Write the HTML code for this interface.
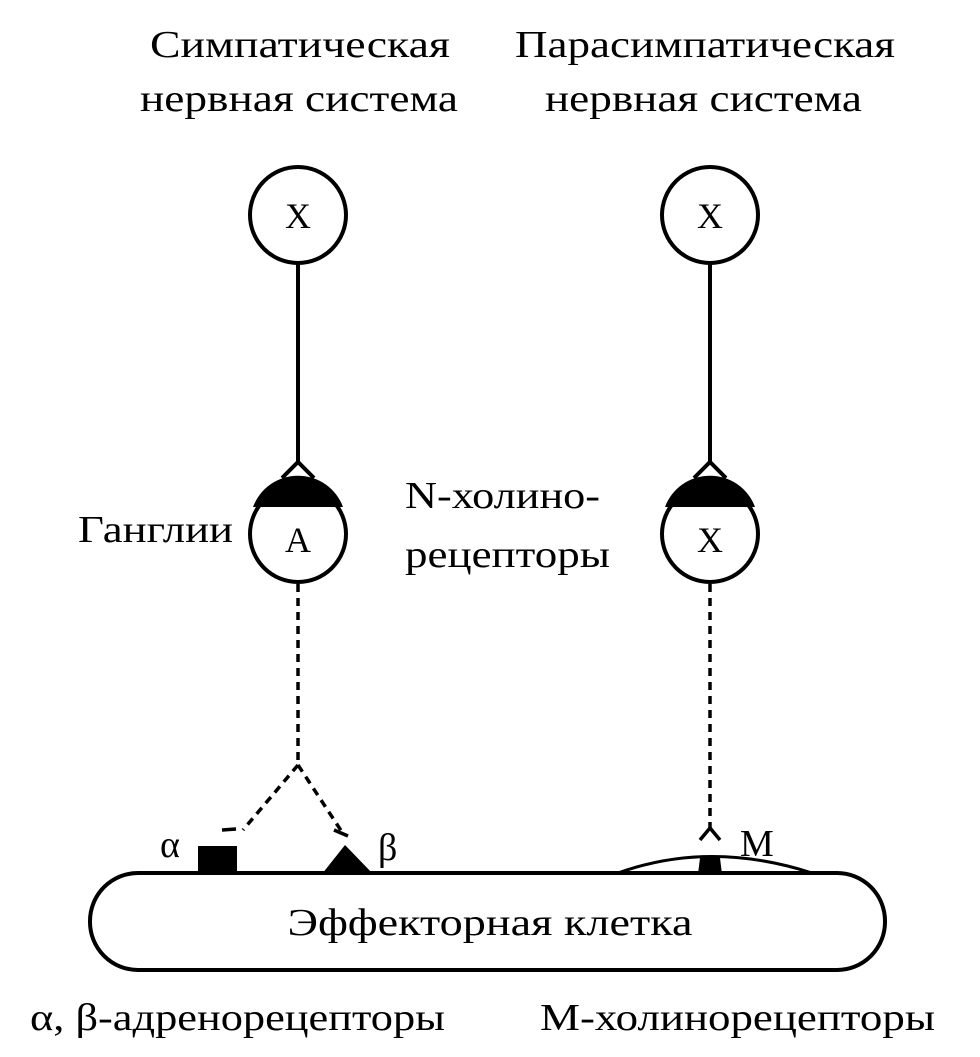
<!DOCTYPE html>
<html><head><meta charset="utf-8"><style>
html,body{margin:0;padding:0;background:#fff;}
svg{display:block;}
text{font-family:"Liberation Serif",serif;fill:#000;}
</style></head><body>
<svg width="980" height="1057" viewBox="0 0 980 1057">
<g font-size="38">
<text x="150" y="57" textLength="300" lengthAdjust="spacingAndGlyphs">Симпатическая</text>
<text x="140" y="111" textLength="318" lengthAdjust="spacingAndGlyphs">нервная система</text>
<text x="515" y="57" textLength="380" lengthAdjust="spacingAndGlyphs">Парасимпатическая</text>
<text x="545" y="111" textLength="317" lengthAdjust="spacingAndGlyphs">нервная система</text>
<text x="78" y="542" textLength="155" lengthAdjust="spacingAndGlyphs">Ганглии</text>
<text x="405" y="508" textLength="195" lengthAdjust="spacingAndGlyphs">N-холино-</text>
<text x="405" y="567" textLength="205" lengthAdjust="spacingAndGlyphs">рецепторы</text>
<text x="30" y="1030" textLength="415" lengthAdjust="spacingAndGlyphs">α, β-адренорецепторы</text>
<text x="540" y="1030" textLength="395" lengthAdjust="spacingAndGlyphs">М-холинорецепторы</text>
<text x="490" y="935" text-anchor="middle" textLength="405" lengthAdjust="spacingAndGlyphs">Эффекторная клетка</text>
<text x="160" y="857">α</text>
<text x="378" y="860">β</text>
<text x="740" y="856">M</text>
</g>
<g fill="none" stroke="#000" stroke-width="4">
<circle cx="298" cy="215" r="48"/>
<circle cx="710" cy="215" r="48"/>
<line x1="298" y1="263" x2="298" y2="462"/>
<line x1="710" y1="263" x2="710" y2="462"/>
<path d="M282 478 L298 462 L314 478"/>
<path d="M694 478 L710 462 L726 478"/>
<circle cx="298" cy="534" r="48"/>
<circle cx="710" cy="534" r="48"/>
<g stroke-dasharray="8 6" stroke-width="3.5">
<line x1="298" y1="584" x2="298" y2="765"/>
<path d="M298 765 L243 830"/>
<path d="M298 765 L342 832"/>
<line x1="710" y1="584" x2="710" y2="828"/>
</g>
<path d="M222 830 L236 829" stroke-width="3.5"/>
<path d="M334 830 L348 836" stroke-width="3.5"/>
<path d="M700 840 L710 828 L720 840" stroke-width="3.5"/>
<rect x="90" y="873" width="795" height="97" rx="48"/>
<path d="M618 873 Q710 840 812 873" stroke-width="3"/>
</g>
<path d="M253 507 A48 48 0 0 1 343 507 Z" fill="#000"/>
<path d="M665 507 A48 48 0 0 1 755 507 Z" fill="#000"/>
<text x="298" y="552" font-size="36" text-anchor="middle">A</text>
<text x="710" y="552" font-size="36" text-anchor="middle">X</text>
<text x="298" y="228" font-size="36" text-anchor="middle">X</text>
<text x="710" y="228" font-size="36" text-anchor="middle">X</text>
<rect x="198" y="846" width="39" height="28" fill="#000"/>
<path d="M322 874 L345 845 L373 874 Z" fill="#000"/>
<path d="M698 874 L700 858 L720 858 L722 874 Z" fill="#000"/>
</svg>
</body></html>
